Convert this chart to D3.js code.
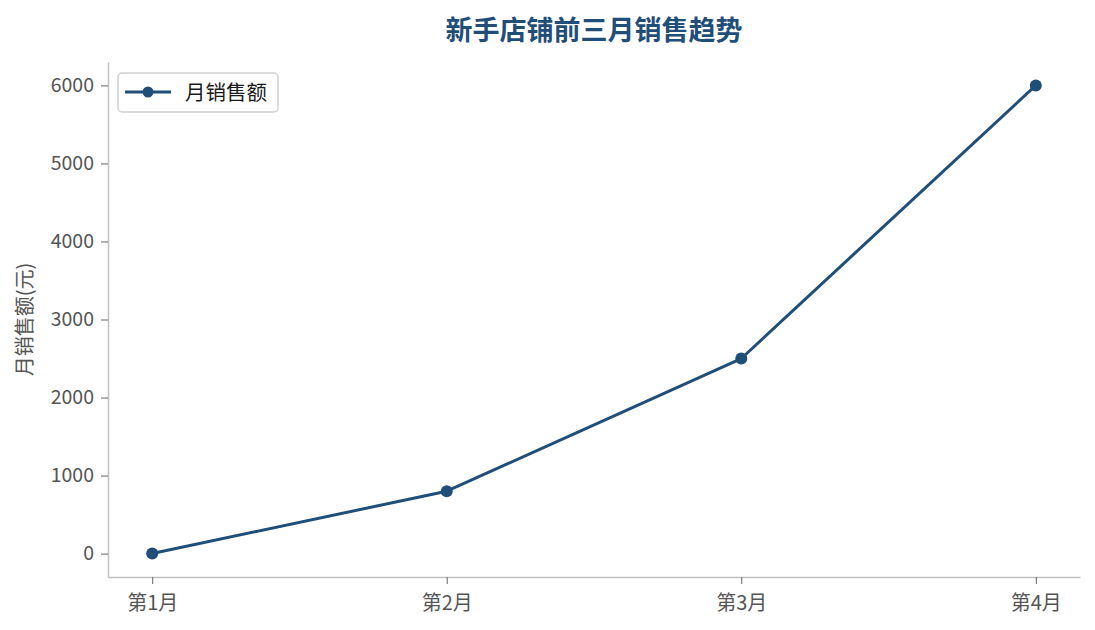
<!DOCTYPE html>
<html>
<head>
<meta charset="utf-8">
<script src="https://cdn.jsdelivr.net/npm/d3@7"></script>
<style>
  body { margin: 0; background: #fff; }
  svg text { font-family: "Noto Sans CJK SC", "Microsoft YaHei", sans-serif; }
</style>
</head>
<body>
<svg id="chart" width="1095" height="630"></svg>
<script>
const months = ["第1月", "第2月", "第3月", "第4月"]
const sales = [0, 800, 2500, 6000]
const yTicks = [0, 1000, 2000, 3000, 4000, 5000, 6000]

const lineColor = "#1f4e79"
const spineColor = "#c0c0c0"
const tickColor = "#555555"

const svg = d3.select("#chart")
const plotLeft = 108, plotRight = 1080, plotTop = 62, plotBottom = 577

const x = d3.scaleLinear().domain([-0.15, 3.15]).range([plotLeft, plotRight])
const y = d3.scaleLinear().domain([-300, 6300]).range([plotBottom, plotTop])

// y axis
const yAxis = svg.append("g")
    .attr("transform", "translate(" + plotLeft + ",0)")
    .call(d3.axisLeft(y).tickValues(yTicks).tickSize(7).tickSizeOuter(0).tickPadding(7).tickFormat(d3.format("d")))
yAxis.select(".domain").attr("stroke", spineColor).attr("stroke-width", 1.5)
yAxis.selectAll(".tick line").attr("stroke", "#666")
yAxis.selectAll(".tick text").attr("fill", tickColor).style("font-size", "19.5px")

// x axis
const xAxis = svg.append("g")
    .attr("transform", "translate(0," + plotBottom + ")")
    .call(d3.axisBottom(x).tickValues([0, 1, 2, 3]).tickSize(7).tickSizeOuter(0).tickPadding(12).tickFormat(i => months[i]))
xAxis.select(".domain").attr("stroke", spineColor).attr("stroke-width", 1.5)
xAxis.selectAll(".tick line").attr("stroke", "#666")
xAxis.selectAll(".tick text").attr("fill", tickColor).style("font-size", "20px")

// line + markers
const line = d3.line()
    .x((d, i) => x(i))
    .y(d => y(d))

svg.append("path")
    .datum(sales)
    .attr("d", line)
    .attr("fill", "none")
    .attr("stroke", lineColor)
    .attr("stroke-width", 3)
    .attr("stroke-linejoin", "round")

svg.selectAll(".pt")
    .data(sales)
    .enter()
    .append("circle")
    .attr("class", "pt")
    .attr("cx", (d, i) => x(i))
    .attr("cy", d => y(d))
    .attr("r", 6)
    .attr("fill", lineColor)

// title
svg.append("text")
    .attr("x", 594)
    .attr("y", 40)
    .attr("text-anchor", "middle")
    .attr("fill", lineColor)
    .style("font-size", "27px")
    .style("font-weight", "bold")
    .text("新手店铺前三月销售趋势")

// y label
svg.append("text")
    .attr("transform", "translate(32," + ((plotTop + plotBottom) / 2) + ") rotate(-90)")
    .attr("text-anchor", "middle")
    .attr("fill", tickColor)
    .style("font-size", "20px")
    .text("月销售额(元)")

// legend
const legend = svg.append("g").attr("transform", "translate(118,73)")
legend.append("rect")
    .attr("width", 160).attr("height", 39).attr("rx", 4)
    .attr("fill", "#fff").attr("stroke", "#d0d0d0").attr("stroke-width", 1.5)
legend.append("line")
    .attr("x1", 7).attr("x2", 53).attr("y1", 19).attr("y2", 19)
    .attr("stroke", lineColor).attr("stroke-width", 3)
legend.append("circle")
    .attr("cx", 30).attr("cy", 19).attr("r", 5.5).attr("fill", lineColor)
legend.append("text")
    .attr("x", 67).attr("y", 26.5)
    .attr("fill", "#1a1a1a")
    .style("font-size", "20.5px")
    .text("月销售额")
</script>
</body>
</html>
